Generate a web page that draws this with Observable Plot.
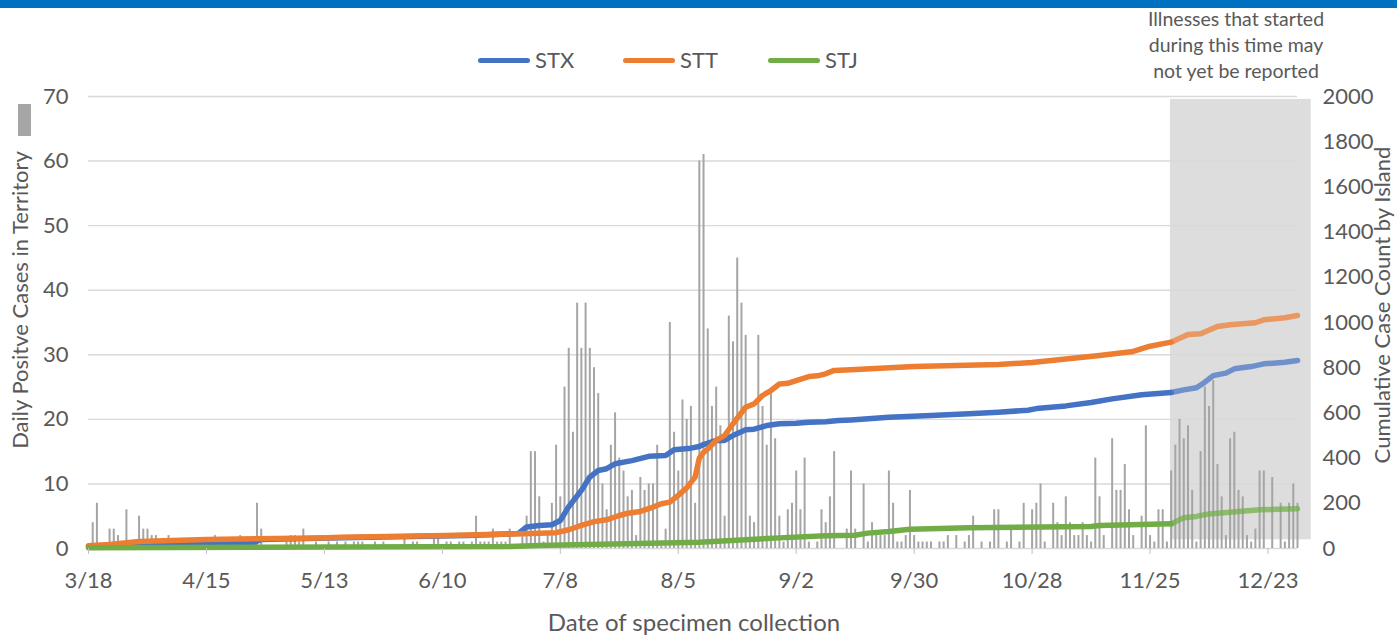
<!DOCTYPE html>
<html><head><meta charset="utf-8">
<script src="https://cdn.jsdelivr.net/npm/d3@7"></script>
<script src="https://cdn.jsdelivr.net/npm/@observablehq/plot@0.6"></script>
<style>
body{margin:0;background:#fff;font-family:Lato,"Liberation Sans",sans-serif;}
#wrap{position:relative;width:1397px;height:635px;overflow:hidden;}
#chart{position:absolute;left:0;top:0;}
#band{position:absolute;left:0;top:0;width:1397px;height:8px;background:#0070C0;}
.abs{position:absolute;color:#595959;white-space:nowrap;line-height:1;}
#note{position:absolute;left:1126px;top:6px;width:220px;text-align:center;font-size:19.5px;line-height:26px;color:#595959;}
.key{position:absolute;height:5px;border-radius:3px;}
</style></head><body>
<div id="wrap">
  <div id="chart"></div>
  <div id="band"></div>
  <div id="legend"></div>
  <div id="note"></div>
  <div class="abs" id="xtitle" style="left:694px;top:610px;font-size:24px;transform:translateX(-50%);"></div>
  <div class="abs" id="ytitle" style="left:20px;top:300px;font-size:22px;transform:translate(-50%,-50%) rotate(-90deg);"></div>
  <div class="abs" id="y2title" style="left:1382px;top:305px;font-size:22px;transform:translate(-50%,-50%) rotate(-90deg);"></div>
  <div style="position:absolute;left:18px;top:104px;width:13px;height:32px;background:#a6a6a6;"></div>
</div>
<script>
// ---------- data ----------
const startDay = "3/18";
const dailyCases = [
 0,4,7,0,0,3,3,2,1,6,
 0,0,5,3,3,2,2,0,0,2,
 0,0,0,0,0,0,0,0,0,0,
 2,0,0,0,0,0,2,0,0,0,
 7,3,0,0,0,0,0,1,2,2,
 1,3,0,0,1,0,0,1,0,1,
 0,1,0,1,1,1,0,0,1,0,
 1,0,0,0,0,2,0,1,1,0,
 0,0,2,2,0,1,1,0,1,1,
 0,1,5,1,1,1,3,1,1,1,
 3,0,0,3,5,15,15,8,1,2,
 7,16,8,25,31,18,38,31,38,31,
 28,24,10,6,16,21,14,12,8,9,
 2,11,9,10,10,16,1,3,35,18,
 12,23,20,22,7,60,61,34,22,25,
 19,5,36,32,45,38,33,5,4,33,
 22,16,24,17,5,1,6,7,12,6,
 14,1,0,1,6,4,8,15,0,0,
 3,12,3,0,10,1,4,2,2,2,
 12,7,1,1,2,9,2,1,1,1,
 1,0,1,1,2,0,2,0,1,2,
 5,0,1,0,1,6,6,0,1,3,
 0,1,7,0,6,7,10,1,0,7,
 4,2,8,4,2,2,4,2,1,14,
 8,2,0,17,9,9,13,6,2,0,
 5,19,2,1,6,6,1,12,16,20,
 17,19,9,1,15,25,22,26,13,8,
 2,17,18,9,8,2,1,3,12,12,
 0,11,0,7,1,7,10,7
];
const xTickLabels = ["3/18","4/15","5/13","6/10","7/8","8/5","9/2","9/30","10/28","11/25","12/23"];
const dailyTicks = [0,10,20,30,40,50,60,70];
const cumulativeTicks = [0,200,400,600,800,1000,1200,1400,1600,1800,2000];
const seriesNames = ["STX","STT","STJ"];
const seriesColors = ["#4472C4","#ED7D31","#70AD47"];

const stxDates = ["3/18","3/30","4/17","4/26","4/28","5/17","6/16","6/28","6/30","7/3","7/6","7/8","7/10","7/13","7/15","7/17","7/19","7/21","7/25","7/29","8/2","8/4","8/8","8/10","8/11","8/14","8/16","8/18","8/21","8/23","8/26","8/29","9/2","9/5","9/9","9/12","9/15","9/24","10/4","10/13","10/20","10/27","10/29","11/5","11/11","11/16","11/23","11/30","12/3","12/6","12/8","12/10","12/13","12/15","12/19","12/22","12/27","12/30"];
const stxCases = [10,18,22,24,40,48,58,66,95,102,105,124,185,257,316,345,353,375,389,408,411,437,444,451,460,478,478,500,525,528,544,552,554,559,561,566,569,581,588,596,603,612,619,631,646,662,680,690,702,711,736,765,776,795,805,817,824,832];

const sttDates = ["3/18","3/23","3/30","4/15","5/12","5/17","6/11","6/29","7/3","7/7","7/10","7/13","7/16","7/19","7/22","7/24","7/27","7/29","8/1","8/3","8/5","8/7","8/9","8/10","8/11","8/12","8/14","8/16","8/18","8/21","8/23","8/25","8/27","8/29","8/31","9/2","9/5","9/7","9/9","9/11","9/15","9/30","10/20","10/28","11/13","11/21","11/25","11/30","12/4","12/7","12/11","12/14","12/20","12/22","12/27","12/30"];
const sttCases = [12,18,31,40,47,50,58,65,68,70,83,102,119,127,146,156,164,176,198,205,235,268,316,400,425,440,478,500,552,625,640,677,699,728,731,743,761,764,773,788,791,805,814,823,854,872,895,913,947,950,982,990,999,1012,1021,1031];

const stjDates = ["3/18","6/26","7/3","8/10","8/29","9/9","9/16","9/19","9/24","9/29","10/13","11/11","11/13","11/23","11/30","12/3","12/6","12/9","12/16","12/21","12/30"];
const stjCases = [3,9,13,28,47,56,59,68,75,85,92,97,102,106,109,136,142,153,164,171,176];

const shadeDates = ["2020-11-29T20:00Z","2021-01-02T06:00Z"];
const shadeDaily = [1.35, 69.55];

const titleX = "Date of specimen collection";
const titleY = "Daily Positve Cases in Territory";
const titleY2 = "Cumulative Case Count by Island";
const noteLines = ["Illnesses that started","during this time may","not yet be reported"];

// ---------- build ----------
const md = s => { const [m,d] = s.split("/").map(Number); return new Date(Date.UTC(2020, m-1, d)); };
const SCALE = 70/2000;
const x0 = md(startDay);
const bars = dailyCases.map((v,i) => ({date: d3.utcDay.offset(x0, i), v}));
const lastDay = bars[bars.length-1].date;
const lineData = [];
[[stxDates,stxCases],[sttDates,sttCases],[stjDates,stjCases]].forEach(([ds,cs],k) => {
  ds.forEach((s,i) => lineData.push({series: seriesNames[k], date: md(s), y: cs[i]*SCALE}));
});
const split = md("11/30");

const chart = Plot.plot({
  width: 1397, height: 635,
  marginLeft: 88, marginRight: 100, marginTop: 96, marginBottom: 87,
  x: {type: "utc", domain: [x0, lastDay]},
  y: {domain: [0, 70]},
  color: {domain: seriesNames, range: seriesColors},
  style: {fontFamily: "Lato, 'Liberation Sans', sans-serif", fontSize: "22px", color: "#595959", background: "transparent", overflow: "visible"},
  marks: [
    Plot.rect([{a: new Date(shadeDates[0]), b: new Date(shadeDates[1])}], {x1: "a", x2: "b", y1: shadeDaily[0], y2: shadeDaily[1], fill: "#dddddd"}),
    Plot.ruleY(dailyTicks.slice(1), {stroke: "#d9d9d9", strokeWidth: 1.4}),
    Plot.ruleY([0], {stroke: "#d9d9d9", strokeWidth: 1.4}),
    Plot.ruleX(bars, {x: "date", y1: 0, y2: "v", stroke: "#a5a5a5", strokeWidth: 2}),
    Plot.line(lineData.filter(d => d.date <= split), {x: "date", y: "y", z: "series", stroke: "series", strokeWidth: 5.5, strokeLinejoin: "round", strokeLinecap: "round"}),
    Plot.line(lineData.filter(d => d.date >= split), {x: "date", y: "y", z: "series", stroke: "series", strokeWidth: 5.5, strokeOpacity: 0.72, strokeLinejoin: "round", strokeLinecap: "round"}),
    Plot.axisY(dailyTicks, {anchor: "left", tickSize: 0, tickPadding: 20, label: null}),
    Plot.axisY(cumulativeTicks.map(v => v*SCALE), {anchor: "right", tickSize: 0, tickPadding: 25, tickFormat: d => String(Math.round(d/SCALE)), label: null}),
    Plot.axisX(xTickLabels.map(md), {tickSize: 6, tickPadding: 18, stroke: "#bfbfbf", tickFormat: d => `${d.getUTCMonth()+1}/${d.getUTCDate()}`, label: null})
  ]
});
document.getElementById("chart").appendChild(chart);

// legend
const legend = document.getElementById("legend");
const keyX = [478, 623, 768];
seriesNames.forEach((n,i) => {
  const k = document.createElement("div");
  k.className = "key"; k.style.left = keyX[i]+"px"; k.style.top = "58px"; k.style.width = "52px"; k.style.background = seriesColors[i];
  legend.appendChild(k);
  const t = document.createElement("div");
  t.className = "abs"; t.textContent = n; t.style.left = (keyX[i]+57)+"px"; t.style.top = "49px"; t.style.fontSize = "22px";
  legend.appendChild(t);
});
document.getElementById("note").innerHTML = noteLines.join("<br>");
document.getElementById("xtitle").textContent = titleX;
document.getElementById("ytitle").textContent = titleY;
document.getElementById("y2title").textContent = titleY2;
</script>
</body></html>
